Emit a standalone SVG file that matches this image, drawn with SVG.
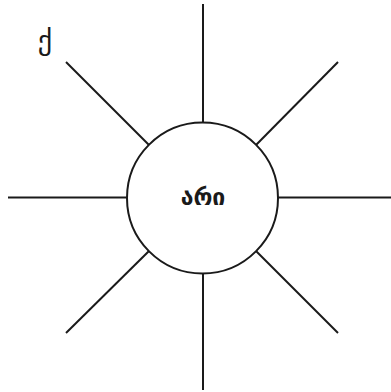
<svg xmlns="http://www.w3.org/2000/svg" width="391" height="392" viewBox="0 0 391 392">
<style>
.ln{stroke:#1a1a1a;stroke-width:2;fill:none}
.nd{stroke:#1a1a1a;stroke-width:2;fill:#fff}
.t{font-family:"DejaVu Sans","Noto Sans",sans-serif;fill:#1a1a1a}
</style>
<rect width="391" height="392" fill="#fff"/>
<g id="connectors">
<line class="ln" x1="203" y1="4" x2="203" y2="122"/>
<line class="ln" x1="203" y1="274" x2="203" y2="390"/>
<line class="ln" x1="8" y1="197.5" x2="127" y2="197.5"/>
<line class="ln" x1="278" y1="197.5" x2="391" y2="197.5"/>
<line class="ln" x1="66" y1="62" x2="149" y2="145"/>
<line class="ln" x1="338" y1="62" x2="256" y2="145"/>
<line class="ln" x1="66" y1="333" x2="149" y2="251"/>
<line class="ln" x1="338" y1="333" x2="256" y2="251"/>
</g>
<g id="center">
<circle class="nd" cx="202.5" cy="198" r="75.5"/>
<text class="t" x="203" y="205" font-size="23" font-weight="bold" text-anchor="middle">არი</text>
</g>
<g id="label">
<text class="t" x="45" y="50" font-size="28" text-anchor="middle">ქ</text>
</g>
</svg>
